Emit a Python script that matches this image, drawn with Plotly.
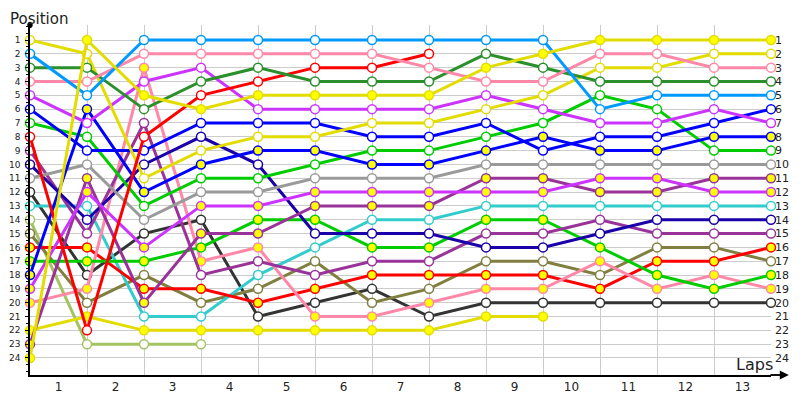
import plotly.graph_objects as go

# laps 0..13 (start grid + 13 laps), positions 1..24
laps = list(range(14))
lap_labels = [str(i) for i in range(1, 14)]
positions = list(range(1, 25))

# position of each driver after every lap (None = retired)
yellow_h = [1, 2, 11, 9, 8, 8, 7, 7, 6, 5, 3, 3, 2, 2]
yellow_f = [24, 1, 5, 6, 5, 5, 5, 5, 3, 2, 1, 1, 1, 1]
yellow_f2 = [22, 21, 22, 22, 22, 22, 22, 22, 21, 21, None, None, None, None]
skyblue_h = [2, 5, 1, 1, 1, 1, 1, 1, 1, 1, 6, 5, 5, 5]
dkgreen_h = [3, 3, 6, 4, 3, 4, 4, 4, 2, 3, 4, 4, 4, 4]
pink_h = [4, 4, 2, 2, 2, 2, 2, 3, 4, 4, 2, 2, 3, 3]
pink_f = [20, 19, 3, 17, 16, 21, 21, 20, 19, 19, 17, 19, 18, 19]
violet_h = [5, 7, 4, 3, 6, 6, 6, 6, 5, 6, 7, 7, 6, 7]
violet_f = [19, 12, 16, 13, 13, 12, 12, 12, 12, 12, 11, 11, 12, 12]
blue_h = [6, 9, 9, 7, 7, 7, 8, 8, 7, 9, 8, 8, 7, 6]
blue_f = [18, 6, 12, 10, 9, 9, 10, 10, 9, 8, 9, 9, 8, 8]
green_h = [7, 8, 13, 11, 11, 10, 9, 9, 8, 7, 5, 6, 9, 9]
green_f = [17, 17, 17, 16, 14, 14, 16, 16, 14, 14, 16, 18, 19, 18]
red_h = [8, 22, 8, 5, 4, 3, 3, 2, None, None, None, None, None, None]
red_f = [16, 16, 19, 19, 20, 19, 18, 18, 18, 18, 19, 17, 17, 16]
dkpurple_h = [9, 15, 7, 18, 17, 18, 17, 17, 15, 15, 14, 15, 15, 15]
dkpurple_f = [23, 11, 20, 15, 15, 13, 13, 13, 11, 11, 12, 12, 11, 11]
navy_h = [10, 14, 10, 8, 10, 15, 15, 15, 16, 16, 15, 14, 14, 14]
gray_h = [11, 10, 14, 12, 12, 11, 11, 11, 10, 10, 10, 10, 10, 10]
black_h = [12, 18, 15, 14, 21, 20, 19, 21, 20, 20, 20, 20, 20, 20]
teal_h = [13, 13, 21, 21, 18, 16, 14, 14, 13, 13, 13, 13, 13, 13]
lightgreen_h = [14, 23, 23, 23, None, None, None, None, None, None, None, None, None, None]
olive_h = [15, 20, 18, 20, 19, 17, 20, 19, 17, 17, 18, 16, 16, 17]

series = [
    ("lightgreen_h", lightgreen_h), ("yellow_f2", yellow_f2), ("black_h", black_h),
    ("olive_h", olive_h), ("teal_h", teal_h), ("red_f", red_f), ("pink_f", pink_f),
    ("green_f", green_f), ("dkpurple_h", dkpurple_h), ("navy_h", navy_h),
    ("dkpurple_f", dkpurple_f), ("violet_f", violet_f), ("gray_h", gray_h),
    ("green_h", green_h), ("blue_f", blue_f), ("blue_h", blue_h),
    ("violet_h", violet_h), ("yellow_h", yellow_h), ("red_h", red_h),
    ("dkgreen_h", dkgreen_h), ("pink_h", pink_h), ("skyblue_h", skyblue_h),
    ("yellow_f", yellow_f),
]

colors = {
    "yellow": "#e2dc00", "skyblue": "#0099ff", "dkgreen": "#2b8f2b",
    "pink": "#ff88a8", "violet": "#cc33ff", "blue": "#0000ff",
    "green": "#00cc00", "red": "#ff0000", "dkpurple": "#993399",
    "navy": "#1a00a8", "gray": "#9a9a9a", "black": "#333333",
    "teal": "#33cccc", "lightgreen": "#a4c462", "olive": "#807f40",
}

fig = go.Figure()
for name, vals in series:
    base, kind = name.rsplit("_", 1)
    col = colors[base.rstrip("2")]
    fill = "white" if kind == "h" else "#ffff00"
    fig.add_trace(go.Scatter(
        x=laps, y=vals, mode="lines+markers", cliponaxis=False,
        line=dict(color=col, width=3),
        marker=dict(size=9, color=fill, line=dict(color=col, width=1.5)),
        showlegend=False, hoverinfo="skip",
    ))

# invisible trace to carry the right-hand axis
fig.add_trace(go.Scatter(x=[0], y=[1], yaxis="y2", mode="markers",
                         marker=dict(opacity=0), showlegend=False, hoverinfo="skip"))

# page body has an 8px margin, so the figure is a bit smaller and shifted
yr = [25.23, -0.085]
fig.update_layout(
    width=792, height=392,
    margin=dict(l=22, r=29, t=17, b=25),
    plot_bgcolor="white", paper_bgcolor="white",
    font=dict(family="DejaVu Sans", size=11, color="#222"),
    xaxis=dict(
        range=[0, 13], tickvals=[i + 0.5 for i in range(13)], ticktext=lap_labels,
        showgrid=False, zeroline=False, showline=True, linecolor="black", linewidth=1.5,
        ticks="", tickfont=dict(size=12), automargin=False,
        minor=dict(tickvals=laps, showgrid=True, gridcolor="#cccccc", gridwidth=1),
    ),
    yaxis=dict(
        range=yr, tickvals=positions, ticktext=[str(p) for p in positions],
        showgrid=True, gridcolor="#cccccc", gridwidth=1, zeroline=False,
        showline=True, linecolor="black", linewidth=1.5, automargin=False,
        ticks="outside", ticklen=3, tickcolor="black", tickfont=dict(size=9),
        ticklabelstandoff=3,
        minor=dict(dtick=0.5, ticks="outside", ticklen=2, tickcolor="black"),
    ),
    yaxis2=dict(
        range=yr, overlaying="y", side="right", tickvals=positions,
        ticktext=[str(p) for p in positions], showgrid=False, zeroline=False,
        showline=False, ticks="", tickfont=dict(size=11), automargin=False,
        ticklabelstandoff=3,
    ),
    annotations=[
        dict(text="Position", xref="paper", yref="paper", x=-0.0297, y=1.0486,
             xanchor="left", yanchor="top", showarrow=False, font=dict(size=15)),
        dict(text="Laps", xref="paper", yref="paper", x=1.005, y=0.03,
             xanchor="right", yanchor="middle", showarrow=False, font=dict(size=16)),
        dict(x=1.024, y=0, xref="paper", yref="paper", ax=-20, ay=0,
             showarrow=True, arrowhead=2, arrowsize=1.2, arrowwidth=1.5,
             arrowcolor="black", text=""),
    ],
    shapes=[
        dict(type="line", xref="paper", yref="paper", x0=1.0, x1=1.02, y0=0, y1=0,
             line=dict(color="black", width=1.5)),
        dict(type="circle", xref="paper", yref="paper", x0=-0.003, x1=0.003,
             y0=0.992, y1=1.008, fillcolor="black", line=dict(color="black", width=1)),
    ],
)

fig.write_html("out.html")
